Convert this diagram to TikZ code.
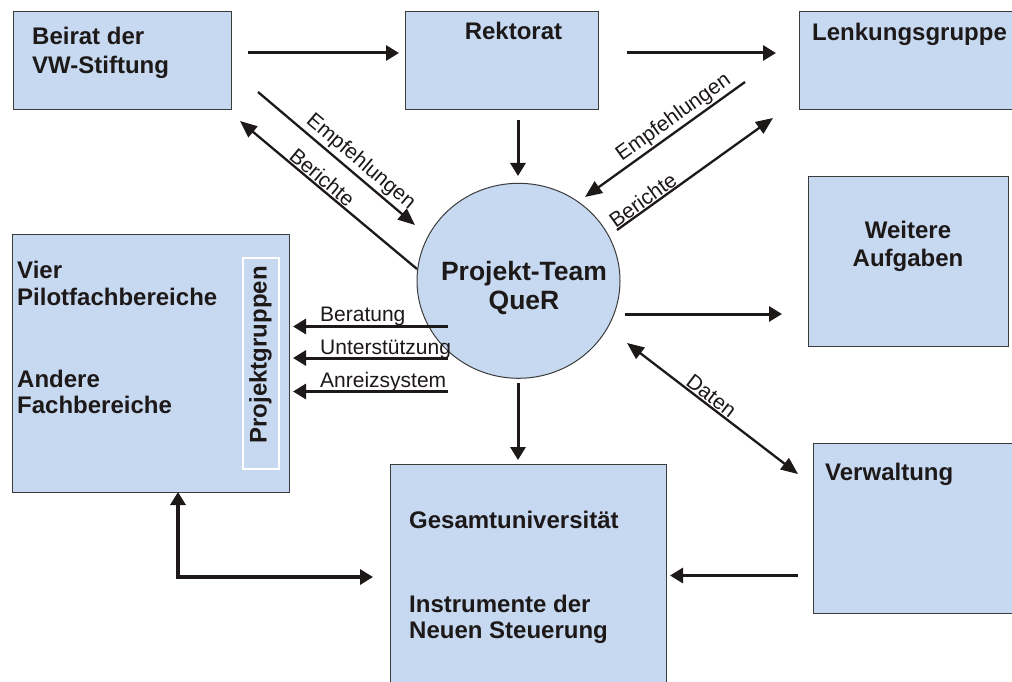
\documentclass[tikz,border=0pt]{standalone}
\usepackage{fontspec}
\setmainfont{Liberation Sans}
\usetikzlibrary{arrows.meta,shapes.geometric}
\definecolor{boxblue}{RGB}{198,217,241}
\definecolor{boxline}{RGB}{60,60,60}
\definecolor{ink}{RGB}{30,25,25}
\tikzset{
  dtip/.tip={Triangle[length=17pt,width=14pt]},
  htip/.tip={Triangle[length=13pt,width=15pt]}
}
\begin{document}
\begin{tikzpicture}[x=1pt,y=-1pt,
  box/.style={draw=boxline, line width=1pt, fill=boxblue, rectangle, inner sep=0pt, anchor=north west},
  bigtxt/.style={font=\fontsize{24}{28}\selectfont\bfseries, text=ink, inner sep=0pt, anchor=base west},
  bigc/.style={bigtxt, anchor=base},
  teamtxt/.style={font=\fontsize{26.5}{30}\selectfont\bfseries, text=ink, inner sep=0pt, anchor=base},
  smalltxt/.style={font=\fontsize{21}{24}\selectfont, text=ink},
  thickarrow/.style={draw=ink, line width=3pt, -{htip}},
  diagarrow/.style={draw=ink, line width=2.3pt}
]
\useasboundingbox (0,0) rectangle (1012,682);
\fill[white] (0,0) rectangle (1012,682);

% boxes
\node[box, minimum width=218pt, minimum height=98pt] (beirat) at (13,11) {};
\node[box, minimum width=193pt, minimum height=98pt] (rektorat) at (405,11) {};
\node[box, minimum width=230pt, minimum height=98pt] (lenkung) at (799,11) {};
\node[box, minimum width=200pt, minimum height=170pt] (weitere) at (808,176) {};
\node[box, minimum width=277pt, minimum height=258pt] (vier) at (12,234) {};
\node[draw=white, line width=2pt, fill=boxblue, inner sep=0pt, anchor=north west,
      minimum width=36pt, minimum height=211pt] (pg) at (242,257) {};
\node[box, minimum width=276pt, minimum height=240pt] (gesamt) at (390,464) {};
\node[box, minimum width=220pt, minimum height=170pt] (verwaltung) at (813,443) {};
\node[ellipse, draw=boxline, line width=1pt, fill=boxblue, inner sep=0pt,
      minimum width=203pt, minimum height=195pt] (team) at (518.5,280.8) {};

% texts
\node[bigtxt] (t-beirat1) at (32,45) {Beirat der};
\node[bigtxt] (t-beirat2) at (32,74) {VW-Stiftung};
\node[bigc] (t-rektorat) at (513.5,40) {Rektorat};
\node[bigtxt] (t-lenkung) at (812,41) {Lenkungsgruppe};
\node[bigc] (t-weitere1) at (908,238) {Weitere};
\node[bigc] (t-weitere2) at (908,266) {Aufgaben};
\node[bigtxt] (t-vier1) at (17,278) {Vier};
\node[bigtxt] (t-vier2) at (17,305) {Pilotfachbereiche};
\node[bigtxt] (t-vier3) at (17,387) {Andere};
\node[bigtxt] (t-vier4) at (17,413) {Fachbereiche};
\node[bigc, rotate=90] (t-pg) at (266.5,355) {Projektgruppen};
\node[bigtxt] (t-ges1) at (409,528) {Gesamtuniversität};
\node[bigtxt] (t-ges2) at (409,612) {Instrumente der};
\node[bigtxt] (t-ges3) at (409,638) {Neuen Steuerung};
\node[bigtxt] (t-verw) at (825,480) {Verwaltung};
\node[teamtxt] (t-team1) at (524,280) {Projekt-Team};
\node[teamtxt] (t-team2) at (524,309) {QueR};

% connector end points
\coordinate (c1s) at (248,53);   \coordinate (c1e) at (399,53);
\coordinate (c2s) at (627,53);   \coordinate (c2e) at (776,53);
\coordinate (c3s) at (518,120);  \coordinate (c3e) at (518,176);
\coordinate (c4s) at (625,314);  \coordinate (c4e) at (782,314);
\coordinate (c5s) at (518,383);  \coordinate (c5e) at (518,460);
\coordinate (c6s) at (798,575.5);\coordinate (c6e) at (670,575.5);
\coordinate (c7a) at (178,492);  \coordinate (c7b) at (373,577);
\coordinate (e1s) at (258,92);   \coordinate (e1e) at (415,225);
\coordinate (b1t) at (240,121);  \coordinate (b1e) at (417,269);
\coordinate (e2t) at (585,197);  \coordinate (e2e) at (745,82);
\coordinate (b2s) at (617,230);  \coordinate (b2t) at (773,118);
\coordinate (d1) at (627,343);   \coordinate (d2) at (798,474);
\coordinate (r1s) at (448,326.5);\coordinate (r1e) at (293,326.5);
\coordinate (r2s) at (448,358);  \coordinate (r2e) at (293,358);
\coordinate (r3s) at (448,391.5);\coordinate (r3e) at (293,391.5);

% straight arrows
\draw[thickarrow] (c1s) -- (c1e);
\draw[thickarrow] (c2s) -- (c2e);
\draw[thickarrow] (c3s) -- (c3e);
\draw[thickarrow] (c4s) -- (c4e);
\draw[thickarrow] (c5s) -- (c5e);
\draw[thickarrow] (c6s) -- (c6e);
\draw[draw=ink, line width=3.5pt, {htip}-{htip}] (c7a) |- (c7b);

% arrows to Projektgruppen
\draw[thickarrow] (r1s) -- (r1e);
\draw[thickarrow] (r2s) -- (r2e);
\draw[thickarrow] (r3s) -- (r3e);
\node[smalltxt, anchor=base west, inner sep=0pt] (l-ber) at (320,321.5) {Beratung};
\node[smalltxt, anchor=base west, inner sep=0pt] (l-unt) at (320,354.5) {Unterstützung};
\node[smalltxt, anchor=base west, inner sep=0pt] (l-anr) at (320,387.5) {Anreizsystem};

% diagonal arrows
\draw[diagarrow, -{dtip}] (e1s) -- (e1e)
  node[smalltxt, pos=0.6, sloped, above, inner sep=2pt] (l-emp1) {Empfehlungen};
\draw[diagarrow, {dtip}-] (b1t) -- (b1e)
  node[smalltxt, pos=0.43, sloped, above, inner sep=1pt] (l-ber1) {Berichte};
\draw[diagarrow, {dtip}-] (e2t) -- (e2e)
  node[smalltxt, pos=0.6, sloped, above, inner sep=1.5pt] (l-emp2) {Empfehlungen};
\draw[diagarrow, -{dtip}] (b2s) -- (b2t)
  node[smalltxt, pos=0.2, sloped, above, inner sep=0.5pt] (l-ber2) {Berichte};
\draw[diagarrow, {dtip}-{dtip}] (d1) -- (d2)
  node[smalltxt, pos=0.46, sloped, above, inner sep=1pt] (l-daten) {Daten};
\end{tikzpicture}
\end{document}
